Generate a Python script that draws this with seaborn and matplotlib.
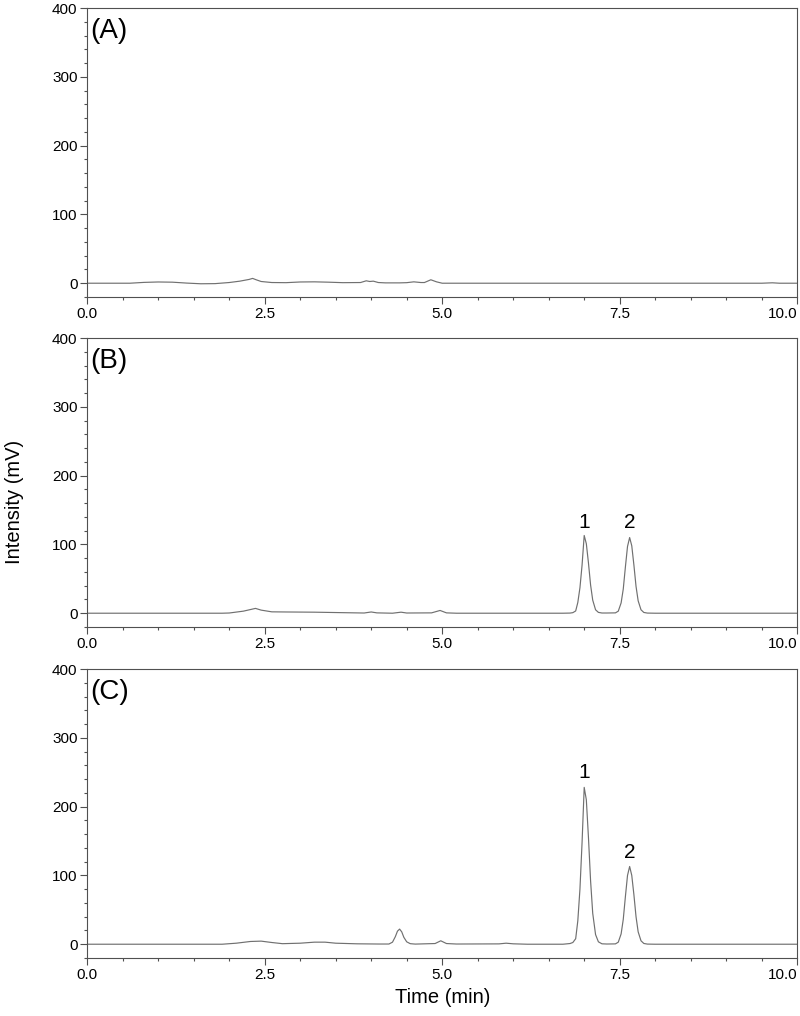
import numpy as np
import pandas as pd
import matplotlib
matplotlib.use("Agg")
import matplotlib.pyplot as plt
import seaborn as sns
from matplotlib.ticker import MultipleLocator

# chromatogram traces (time in min, intensity in mV)
time_a = [0.0, 0.6, 0.8, 1.0, 1.2, 1.4, 1.6, 1.8, 2.0, 2.15, 2.28, 2.33, 2.38, 2.45,
          2.6, 2.8, 3.0, 3.2, 3.4, 3.6, 3.85, 3.93, 3.98, 4.03, 4.1, 4.2, 4.4, 4.5,
          4.6, 4.7, 4.75, 4.84, 4.92, 5.0, 6.0, 7.0, 8.0, 9.0, 9.5, 9.65, 9.75, 10.0]
intensity_a = [0.0, 0.0, 1.2, 1.8, 1.5, 0.2, -0.8, -0.6, 1.0, 3.0, 5.5, 7.0, 5.0, 2.5,
               1.0, 0.8, 1.8, 2.0, 1.5, 0.8, 1.0, 3.5, 2.5, 3.0, 1.0, 0.5, 0.5, 0.8,
               2.0, 1.0, 1.0, 5.0, 2.0, 0.0, 0.0, 0.0, 0.0, 0.0, 0.0, 0.6, 0.0, 0.0]

time_b = [0.0, 1.9, 2.0, 2.2, 2.37, 2.45, 2.6, 2.8, 3.2, 3.6, 3.9, 4.0, 4.08, 4.3,
          4.42, 4.5, 4.85, 4.97, 5.06, 5.2, 6.7,
          6.80, 6.84, 6.88, 6.91, 6.94, 6.97, 7.00, 7.03, 7.06, 7.09, 7.12, 7.16, 7.20, 7.25,
          7.32, 7.44, 7.48, 7.52, 7.55, 7.58, 7.61, 7.64, 7.67, 7.70, 7.73, 7.76, 7.80,
          7.84, 7.89, 8.0, 9.0, 10.0]
intensity_b = [0.0, 0.0, 0.3, 3.0, 7.0, 4.5, 2.0, 1.8, 1.5, 0.8, 0.3, 1.8, 0.5, 0.0,
               1.5, 0.3, 0.5, 4.0, 0.5, 0.0, 0.0,
               0.2, 0.8, 3.3, 15.6, 37.0, 70.0, 113.0, 101.0, 73.0, 41.0, 19.0, 5.0, 1.2, 0.3,
               0.3, 0.5, 3.0, 15.0, 35.0, 67.0, 97.0, 110.0, 98.0, 70.0, 39.0, 18.0, 5.0,
               1.1, 0.2, 0.0, 0.0, 0.0]

time_c = [0.0, 1.9, 2.1, 2.3, 2.45, 2.6, 2.75, 3.0, 3.2, 3.35, 3.5, 3.8, 4.1,
          4.25, 4.30, 4.34, 4.37, 4.40, 4.43, 4.46, 4.50, 4.55, 4.62,
          4.9, 4.98, 5.06, 5.2, 5.8, 5.9, 6.0, 6.2, 6.7,
          6.80, 6.84, 6.88, 6.91, 6.94, 6.97, 7.00, 7.03, 7.06, 7.09, 7.12, 7.16, 7.20, 7.25,
          7.32, 7.44, 7.48, 7.52, 7.55, 7.58, 7.61, 7.64, 7.67, 7.70, 7.73, 7.76, 7.80,
          7.84, 7.89, 8.0, 9.0, 10.0]
intensity_c = [0.0, 0.0, 1.5, 4.0, 4.5, 2.5, 0.8, 1.5, 3.0, 3.0, 1.5, 0.6, 0.3,
               0.3, 3.0, 11.0, 19.0, 22.0, 18.0, 10.0, 3.5, 0.8, 0.2,
               1.0, 5.0, 1.0, 0.3, 0.5, 1.5, 0.6, 0.0, 0.0,
               1.0, 2.5, 8.0, 34.0, 80.0, 148.0, 228.0, 210.0, 155.0, 92.0, 45.0, 14.0, 3.5, 0.6,
               0.3, 0.5, 3.0, 15.0, 36.0, 69.0, 100.0, 113.0, 100.0, 72.0, 40.0, 18.0, 5.0,
               1.1, 0.2, 0.0, 0.0, 0.0]

panel_labels = ["(A)", "(B)", "(C)"]
peak_names = ["1", "2"]
peak_times = [7.0, 7.64]
peak_label_y = [[], [132, 132], [250, 134]]

x_ticks = [0.0, 2.5, 5.0, 7.5, 10.0]
y_ticks = [0, 100, 200, 300, 400]

sns.set_theme(style="ticks")
plt.rcParams["font.family"] = ["Liberation Sans", "DejaVu Sans"]
plt.rcParams["text.color"] = "black"

fig = plt.figure(figsize=(8, 10.16), dpi=100)
bottoms = [0.7077, 0.3829, 0.0571]
traces = [(time_a, intensity_a), (time_b, intensity_b), (time_c, intensity_c)]

line_col = "#707070"
axis_col = "#505050"

for i, (t, y) in enumerate(traces):
    ax = fig.add_axes([0.109, bottoms[i], 0.8875, 0.2844])
    df = pd.DataFrame({"time": t, "intensity": y})
    sns.lineplot(data=df, x="time", y="intensity", ax=ax, color=line_col,
                 linewidth=0.85, errorbar=None)
    ax.set_xlim(0, 10)
    ax.set_ylim(-20, 400)
    ax.set_xticks(x_ticks)
    ax.set_xticklabels([f"{v:.1f}" for v in x_ticks])
    ax.set_yticks(y_ticks)
    ax.xaxis.set_minor_locator(MultipleLocator(0.5))
    ax.yaxis.set_minor_locator(MultipleLocator(20))
    ax.tick_params(which="major", length=5, width=0.8, color=axis_col,
                   labelsize=11, pad=2, labelcolor="black")
    ax.tick_params(which="minor", length=2.5, width=0.8, color=axis_col)
    for s in ax.spines.values():
        s.set_color(axis_col)
        s.set_linewidth(0.8)
    ax.set_xlabel("")
    ax.set_ylabel("")
    ax.get_xticklabels()[-1].set_horizontalalignment("right")
    ax.text(0.004, 0.92, panel_labels[i], transform=ax.transAxes,
            fontsize=20, va="center", ha="left", color="black")
    for name, pt, py in zip(peak_names, peak_times, peak_label_y[i]):
        ax.text(pt, py, name, fontsize=15, ha="center", va="center", color="black")

fig.text(0.018, 0.506, "Intensity (mV)", rotation=90, ha="center", va="center",
         fontsize=14.5, color="black")
fig.text(0.553, 0.018, "Time (min)", ha="center", va="center", fontsize=14.5,
         color="black")

fig.savefig("out.png", dpi=100)
